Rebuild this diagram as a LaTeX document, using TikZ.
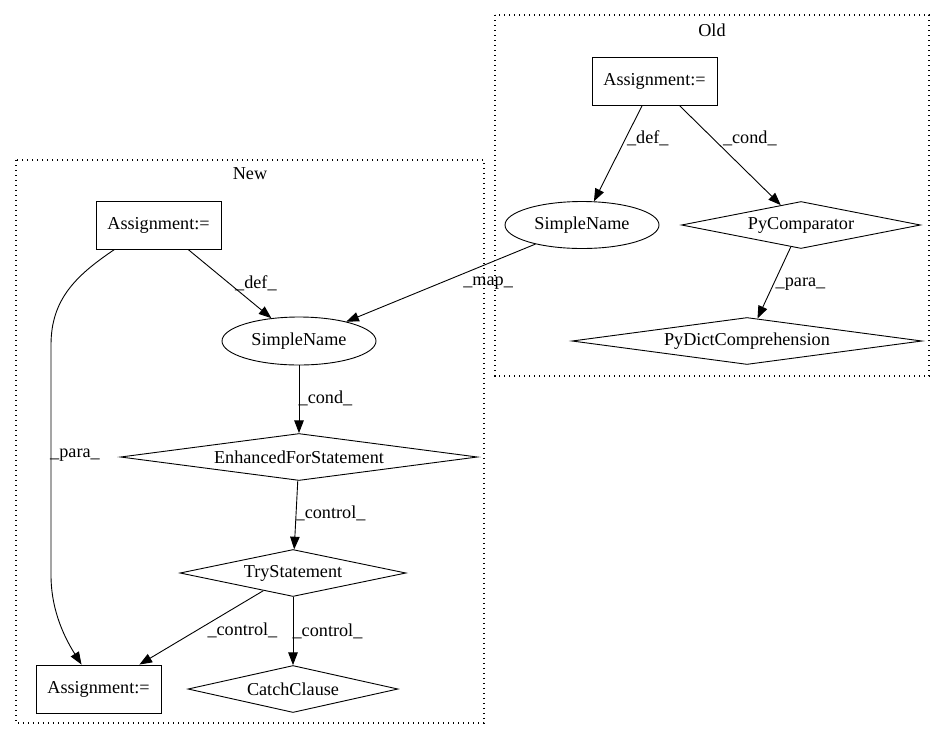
\documentclass[tikz,border=0pt]{standalone}
\usepackage{fontspec}
\setmainfont{Liberation Serif}
\usetikzlibrary{positioning,shapes.geometric,arrows.meta}

\begin{document}
\begin{tikzpicture}[x=1pt,y=-1pt,on grid,line width=0.9pt,
	>={Triangle[length=12.6pt,width=9.5pt]},
	every node/.style={font=\fontsize{18.2}{22}\selectfont},
	box/.style={draw,rectangle,minimum width=125pt,minimum height=48pt,inner sep=0pt},
	ident/.style={draw,ellipse,minimum width=154pt,minimum height=47pt,inner sep=0pt},
	stmt/.style={draw,diamond,aspect=6,inner sep=0pt,minimum height=47pt},
	cluster/.style={line width=1.2pt,dash pattern=on 1.3pt off 3.7pt}]
	\useasboundingbox (0,0) rectangle (945,740);

	% Old
	\draw[cluster] (495,15) rectangle (929,376);
	\node (old) at (712,30) {Old};
	\node[box] (oA) at (654.5,81) {Assignment:=};
	\node[ident] (oS) [below left=144pt and 72.5pt of oA] {SimpleName};
	\node[stmt,minimum width=239pt] (oP) [below right=144pt and 146.5pt of oA] {PyComparator};
	\node[stmt,minimum width=350pt] (oD) [below left=116pt and 54pt of oP] {PyDictComprehension};

	% New
	\draw[cluster] (16,160) rectangle (484,723);
	\node (new) at (250,174) {New};
	\node[box] (nA) at (158.5,225) {Assignment:=};
	\node[ident,minimum height=48pt] (nS) [below right=116pt and 140.5pt of nA] {SimpleName};
	\node[stmt,minimum width=357pt] (nE) [below=116pt of nS] {EnhancedForStatement};
	\node[stmt,minimum width=226pt] (nT) [below left=116pt and 6pt of nE] {TryStatement};
	\node[stmt,minimum width=210pt] (nC) [below=116pt of nT] {CatchClause};
	\node[box] (nB) [left=194.5pt of nC] {Assignment:=};

	\path[->]

	(oA) edge node[pos=.34,xshift=22pt] {\_def\_} (oS)
	     edge node[pos=.33,xshift=37pt] {\_cond\_} (oP)

	(oP) edge node[pos=.52,xshift=27pt] {\_para\_} (oD)

	(oS) edge node[pos=.25,yshift=-19.5pt] {\_map\_} (nS)

	(nA) edge node[pos=.49,xshift=27pt] {\_def\_} (nS)

	(nS) edge node[pos=.49,xshift=26.5pt] {\_cond\_} (nE)

	(nE) edge node[pos=.48,xshift=34.5pt] {\_control\_} (nT)

	(nT) edge node[pos=.54,xshift=46pt] {\_control\_} (nB)
	     edge node[pos=.5,xshift=34.5pt] {\_control\_} (nC);

	\draw[->] ([xshift=19pt]nA.south west) .. controls (75,276) and (51,300) .. (51,345)
		-- node[pos=.48,xshift=24pt] {\_para\_} (51,575)
		.. controls (51,612) and (66,640) .. ([xshift=46pt]nB.north west);

\end{tikzpicture}
\end{document}
